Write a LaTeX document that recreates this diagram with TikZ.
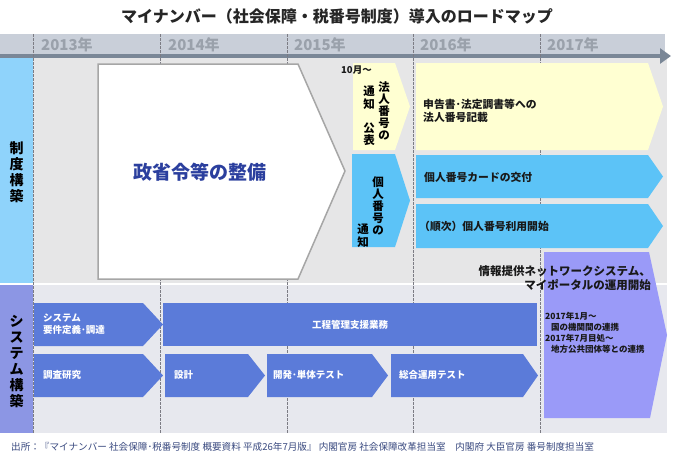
\documentclass[tikz,border=0pt]{standalone}
\usepackage{fontspec}
\setmainfont{Noto Sans CJK JP}
\usetikzlibrary{arrows.meta}
\definecolor{hdr}{HTML}{C9CFD9}
\definecolor{hdrline}{HTML}{7A8797}
\definecolor{yeartxt}{HTML}{9AA1AB}
\definecolor{bgup}{HTML}{E6E6E7}
\definecolor{bglow}{HTML}{E7E8EE}
\definecolor{lblblue}{HTML}{8FD3FB}
\definecolor{lblpurp}{HTML}{8C96E4}
\definecolor{yel}{HTML}{FFFFD2}
\definecolor{skyb}{HTML}{5CC3F7}
\definecolor{purp}{HTML}{9A9AF8}
\definecolor{sysb}{HTML}{5B7BD9}
\definecolor{navy}{HTML}{2B3F9E}
\definecolor{srctxt}{HTML}{3A4A80}
\definecolor{dash}{HTML}{7C7C84}
\newcommand{\mypent}[6]{\fill[#6] (#1,#2) -- (#3,#2) -- (#5,{(#2+#4)/2}) -- (#3,#4) -- (#1,#4) -- cycle;}
\tikzset{
  yearlbl/.style={anchor=west, text=yeartxt, font=\bfseries\fontsize{15}{15}\selectfont, inner sep=0pt},
  divline/.style={draw=dash, line width=0.8pt, dash pattern=on 2.5pt off 1.5pt},
  vlbl/.style={align=center, inner sep=0pt, font=\bfseries\fontsize{14}{16}\selectfont},
  vtxt/.style={align=center, inner sep=0pt, font=\bfseries\fontsize{11.5}{12.2}\selectfont},
  bodytxt/.style={anchor=west, align=left, inner sep=0pt, font=\bfseries\fontsize{10.8}{12.5}\selectfont, text=black!90},
  systxt/.style={anchor=west, align=left, inner sep=0pt, font=\bfseries\fontsize{9.5}{12.5}\selectfont, text=white},
  smalltxt/.style={anchor=west, inner sep=0pt, font=\bfseries\fontsize{8.5}{9}\selectfont, text=black!90},
}
\begin{document}
\begin{tikzpicture}[x=1pt,y=-1pt]
\useasboundingbox (0,0) rectangle (675,459);
\fill[white] (0,0) rectangle (675,459);
% title
\node[font=\bfseries\fontsize{16}{16}\selectfont, text=black!85] (title) at (337,16) {マイナンバー（社会保障・税番号制度）導入のロードマップ};
% header band
\fill[hdr] (0,34) rectangle (665,55);
% backgrounds
\fill[bgup] (33,58) rectangle (667,283);
\fill[bglow] (33,285) rectangle (667,433);
\fill[lblblue] (0,58) rectangle (33,283);
\fill[lblpurp] (0,285) rectangle (33,433);
% timeline arrow
\draw[hdrline, line width=3.5pt, -{Triangle[length=11pt,width=15pt]}] (0,56) -- (671,56);
% year labels
\node[yearlbl] (y13) at (41,45) {2013年};
\node[yearlbl] (y14) at (168,45) {2014年};
\node[yearlbl] (y15) at (294,45) {2015年};
\node[yearlbl] (y16) at (420,45) {2016年};
\node[yearlbl] (y17) at (547,45) {2017年};
% divider lines
\foreach \xx in {33,160,287,413,540} {\draw[divline] (\xx,34) -- (\xx,433);}
% section labels
\node[vlbl] (lblA) at (16.5,172) {制\\度\\構\\築};
\node[vlbl] (lblB) at (16.5,361) {シ\\ス\\テ\\ム\\構\\築};
% white pentagon
\filldraw[fill=white, draw=black!35, line width=1.5pt] (98,64) -- (298,64) -- (345,171) -- (298,279) -- (98,279) -- cycle;
\node[font=\bfseries\fontsize{19}{19}\selectfont, text=navy] (seisho) at (200,172) {政省令等の整備};
% small yellow
\mypent{353}{63}{395}{150}{410}{yel}
\node[smalltxt, font=\bfseries\fontsize{9.5}{10}\selectfont] (oct) at (341,70) {10月～};
\node[vtxt, anchor=north] (hojin) at (384,81) {法\\人\\番\\号\\の};
\node[vtxt, anchor=north] (tsuchi) at (369,86) {通\\知\\ \\公\\表};
% small sky blue
\mypent{352}{154}{395}{247}{410}{skyb}
\node[vtxt, anchor=north] (kojin) at (378,176) {個\\人\\番\\号\\の};
\node[vtxt, anchor=north] (tsuchi2) at (363,224) {通\\知};
% big yellow
\mypent{416}{63}{648}{150}{663}{yel}
\node[bodytxt] (shinkoku) at (423,111) {申告書･法定調書等への\\法人番号記載};
% blue arrows
\mypent{416}{155}{648}{198}{663}{skyb}
\node[bodytxt] (card) at (424,177) {個人番号カードの交付};
\mypent{416}{204}{648}{248}{663}{skyb}
\node[bodytxt] (riyo) at (419,226) {（順次）個人番号利用開始};
% purple
\fill[purp] (544,252) -- (649,252) -- (667,335) -- (650,418) -- (544,418) -- cycle;
\node[anchor=east, align=right, inner sep=0pt, font=\bfseries\fontsize{11.5}{13.5}\selectfont, text=black!90] (joho) at (651,278) {情報提供ネットワークシステム、\\マイポータルの運用開始};
\node[smalltxt] (p1) at (545,316) {2017年1月～};
\node[smalltxt] (p2) at (551,327) {国の機関間の連携};
\node[smalltxt] (p3) at (545,338) {2017年7月目処～};
\node[smalltxt] (p4) at (551,349) {地方公共団体等との連携};
% system arrows
\mypent{34}{303}{143}{346}{163}{sysb}
\node[systxt] (yoken) at (43,324) {システム\\要件定義･調達};
\fill[sysb] (163,303) rectangle (537,346);
\node[systxt, anchor=center] (kotei) at (350,325) {工程管理支援業務};
\mypent{34}{354}{143}{397}{163}{sysb}
\node[systxt] (chosa) at (43,375) {調査研究};
\mypent{165}{354}{248}{397}{265}{sysb}
\node[systxt] (sekkei) at (174,375) {設計};
\mypent{267}{354}{372}{397}{388}{sysb}
\node[systxt] (kaihatsu) at (273,375) {開発･単体テスト};
\mypent{391}{354}{523}{397}{538}{sysb}
\node[systxt] (sogo) at (399,375) {総合運用テスト};
% source
\node[anchor=west, inner sep=0pt, font=\fontsize{9.6}{9.6}\selectfont, text=srctxt] (src) at (11,447) {出所：『マイナンバー 社会保障･税番号制度 概要資料 平成26年7月版』 内閣官房 社会保障改革担当室　内閣府 大臣官房 番号制度担当室};
\end{tikzpicture}
\end{document}
